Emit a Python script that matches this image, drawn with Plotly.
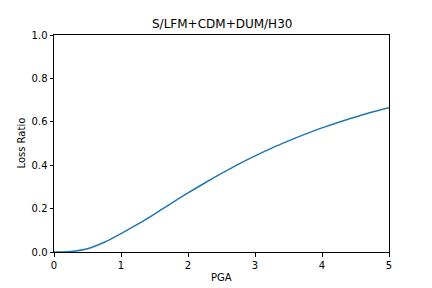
import plotly.graph_objects as go

pga = [0, 0.25, 0.5, 0.75, 1.0, 1.25, 1.5, 1.75, 2.0, 2.25, 2.5, 2.75, 3.0,
       3.25, 3.5, 3.75, 4.0, 4.25, 4.5, 4.75, 5.0]
loss_ratio = [0.0, 0.002, 0.015, 0.045, 0.085, 0.128, 0.175, 0.224, 0.272,
              0.318, 0.362, 0.404, 0.443, 0.479, 0.512, 0.543, 0.572, 0.598,
              0.622, 0.645, 0.665]
title_text = "S/LFM+CDM+DUM/H30"
x_label = "PGA"
y_label = "Loss Ratio"

W, H = 432, 288
L, R, T, B = 54, 43, 35, 36

fig = go.Figure()
fig.add_trace(go.Scatter(x=pga, y=loss_ratio, mode="lines",
                         line=dict(color="#1f77b4", width=1.5, shape="spline", smoothing=1.0),
                         showlegend=False))

axis_common = dict(showgrid=False, zeroline=False, showline=True, mirror=True,
                   linecolor="black", linewidth=1, ticks="outside", ticklen=3.5,
                   tickwidth=1, tickcolor="black",
                   tickfont=dict(family="DejaVu Sans", size=10, color="black"))

fig.update_layout(
    width=W, height=H,
    margin=dict(l=L, r=R, t=T, b=B, pad=0),
    paper_bgcolor="white", plot_bgcolor="white",
    font=dict(family="DejaVu Sans", size=10, color="black"),
    xaxis=dict(range=[0, 5], tickvals=[0, 1, 2, 3, 4, 5], **axis_common),
    yaxis=dict(range=[0, 1], tickvals=[0, 0.2, 0.4, 0.6, 0.8, 1.0],
               ticktext=["0.0", "0.2", "0.4", "0.6", "0.8", "1.0"], **axis_common),
    annotations=[
        dict(text=title_text, xref="paper", yref="paper", x=0.5,
             y=1 + (T - 24) / (H - T - B), xanchor="center", yanchor="middle",
             showarrow=False, font=dict(size=12, family="DejaVu Sans")),
        dict(text=x_label, xref="paper", yref="paper", x=0.5,
             y=-(277 - (H - B)) / (H - T - B), xanchor="center", yanchor="middle",
             showarrow=False, font=dict(size=10, family="DejaVu Sans")),
        dict(text=y_label, xref="paper", yref="paper",
             x=-(L - 21) / (W - L - R), y=0.5, xanchor="center", yanchor="middle",
             textangle=-90, showarrow=False, font=dict(size=10, family="DejaVu Sans")),
    ],
)

fig.write_html("out.html")
